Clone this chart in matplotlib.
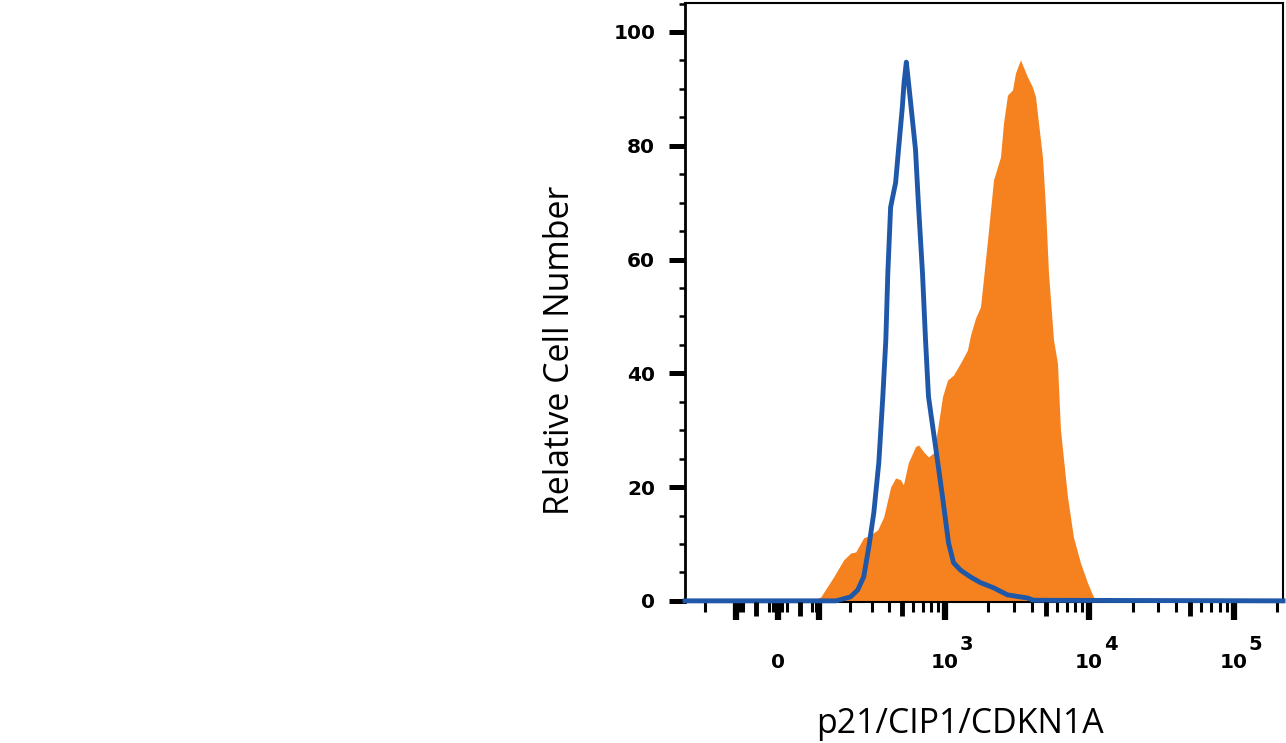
import numpy as np
import matplotlib
matplotlib.use("Agg")
import matplotlib.pyplot as plt
from matplotlib.ticker import FixedLocator, NullLocator

# fluorescence intensity (x) and relative cell number (y)
orange_x = [82, 104, 142, 176, 202, 223, 258, 283, 331, 367, 412, 448, 485, 510,
            553, 622, 654, 709, 768, 833, 889, 963, 1044, 1150, 1286, 1438, 1509,
            1636, 1772, 1981, 2180, 2324, 2437, 2557, 2724, 2951, 3096, 3352, 3748,
            4060, 4260, 4470, 4760, 4995, 5240, 5675, 6045, 6340, 7090, 7800, 8720,
            9750, 10720, 11430]
orange_y = [0, 0.7, 4.2, 7.2, 8.4, 8.6, 11.1, 11.4, 12.5, 14.8, 20.0, 21.6, 21.3, 20.4,
            24.3, 27.1, 27.4, 26.2, 25.3, 26.0, 30.1, 35.9, 38.8, 39.7, 41.8, 44.1, 46.7,
            49.7, 51.7, 63.4, 74.0, 76.3, 78.0, 84.0, 88.9, 89.8, 92.8, 95.1, 92.1,
            90.3, 88.6, 84.0, 78.0, 69.2, 57.6, 45.9, 41.8, 30.1, 18.3, 11.2, 6.7,
            3.2, 0.7, 0]

blue_x = [-290, 150, 202, 231, 258, 283, 309, 337, 361, 380, 393, 412, 448, 470, 501,
          515, 535, 572, 622, 654, 697, 732, 768, 861, 963, 1061, 1150, 1286, 1509,
          1772, 2180, 2724, 3748, 4125, 220000]
blue_y = [0, 0, 0.7, 1.9, 4.2, 9.5, 15.5, 24.3, 35.9, 45.9, 57.6, 69.2, 73.5, 79.3, 86.8,
          91.0, 94.7, 88.0, 79.3, 69.2, 57.6, 45.9, 35.9, 27.1, 18.3, 10.2, 6.7, 5.4, 4.2,
          3.2, 2.3, 1.05, 0.5, 0.1, 0]

x_long = [-100, 0, 100, 1e3, 1e4, 1e5]
x_long_labels = ['', '0', '', '10', '10', '10']
x_exponents = {1e3: '3', 1e4: '4', 1e5: '5'}
x_medium = [-50, 50, 500, 5000, 50000]
x_small = [-200, -90, -80, -20, -10, 10, 20, 80, 90, 200, 300, 400, 600, 700, 800, 900,
           2000, 3000, 4000, 6000, 7000, 8000, 9000, 2e4, 3e4, 4e4, 6e4, 7e4, 8e4, 9e4, 2e5]
y_major = [0, 20, 40, 60, 80, 100]
y_minor = [5, 10, 15, 25, 30, 35, 45, 50, 55, 65, 70, 75, 85, 90, 95, 105]

C = 140.0
def fwd(v):
    return np.arcsinh(np.asarray(v) / C)
def inv(v):
    return C * np.sinh(np.asarray(v))

fig = plt.figure(figsize=(12.86, 7.43), dpi=100)
ax = fig.add_axes([0.5327, 0.1898, 0.465, 0.8062])
ax.set_xscale('function', functions=(fwd, inv))
ax.set_xlim(-290, 220000)
ax.set_ylim(-0.2, 105.1)

ax.fill_between(orange_x, orange_y, 0, color='#f5821f', linewidth=0, zorder=2)
ax.plot(blue_x, blue_y, color='#1f58a8', linewidth=3.5, clip_on=False, zorder=3)

ax.spines['left'].set_linewidth(2.0)
for s in ['top', 'right', 'bottom']:
    ax.spines[s].set_linewidth(1.5)

ax.xaxis.set_major_locator(FixedLocator(x_long))
ax.set_xticklabels(x_long_labels)
ax.xaxis.set_minor_locator(FixedLocator(x_small))
ax.yaxis.set_major_locator(FixedLocator(y_major))
ax.yaxis.set_minor_locator(FixedLocator(y_minor))

ax.tick_params(axis='x', which='major', direction='out', length=13, width=4.5, pad=34.6,
               labelsize=14.5)
ax.tick_params(axis='x', which='minor', direction='out', length=7, width=2.2)
ax.tick_params(axis='y', which='major', direction='out', length=11.5, width=3.6, pad=10,
               labelsize=14.5)
ax.tick_params(axis='y', which='minor', direction='out', length=4.3, width=1.8)
for t in ax.get_xticklabels():
    t.set_verticalalignment('baseline')
    t.set_fontweight('bold')
for t in ax.get_yticklabels():
    t.set_fontweight('bold')

# big superscript exponents, as in the original
for v, e in x_exponents.items():
    ax.annotate(e, xy=(v, 0), xycoords=ax.get_xaxis_transform(),
                xytext=(11, -34.6), textcoords='offset points',
                ha='left', va='baseline', fontsize=14, fontweight='bold')

# medium-length ticks on a twin axis
ax2 = ax.twiny()
ax2.set_xscale('function', functions=(fwd, inv))
ax2.set_xlim(-290, 220000)
ax2.xaxis.set_ticks_position('bottom')
ax2.xaxis.set_major_locator(FixedLocator(x_medium))
ax2.xaxis.set_minor_locator(NullLocator())
ax2.tick_params(axis='x', which='major', direction='out', length=10, width=3.5,
                labelbottom=False, labeltop=False, top=False)
for s in ax2.spines.values():
    s.set_visible(False)

ax.set_ylabel('Relative Cell Number', fontsize=24.4, family='Open Sans')
ax.yaxis.set_label_coords(-0.18, 0.42)
ax.set_xlabel('p21/CIP1/CDKN1A', fontsize=24.4, family='Open Sans')
ax.xaxis.set_label_coords(0.46, -0.175)

fig.savefig('out.png', dpi=100)
